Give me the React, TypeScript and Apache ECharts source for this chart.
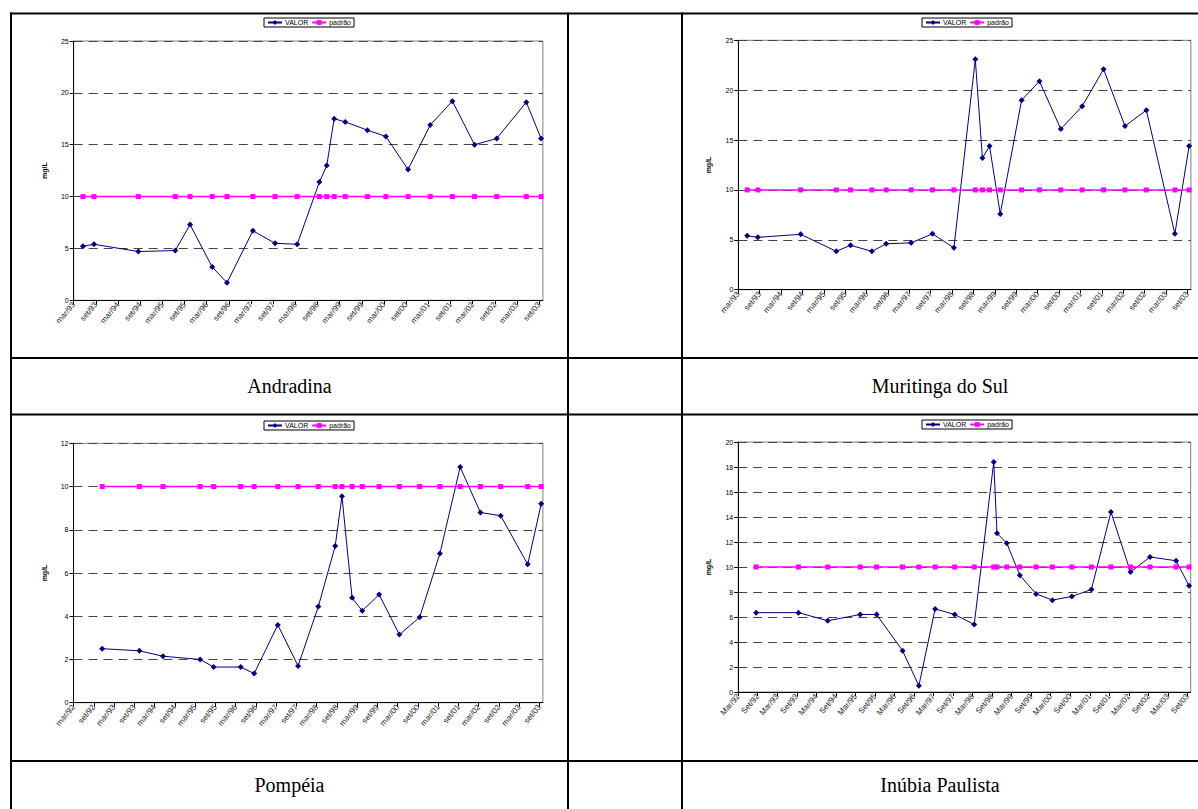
import { useEffect, useRef } from "react";
import * as echarts from "echarts";

// ---- data ----
const andradinaDates = ["1993-05","1993-08","1994-08","1995-06","1995-10","1996-04","1996-08","1997-03","1997-09","1998-03","1998-09","1998-11","1999-01","1999-04","1999-10","2000-03","2000-09","2001-03","2001-09","2002-03","2002-09","2003-05","2003-09"];
const andradinaValor = [5.2, 5.4, 4.7, 4.8, 7.3, 3.2, 1.7, 6.7, 5.5, 5.4, 11.4, 13.0, 17.5, 17.2, 16.4, 15.8, 12.6, 16.9, 19.2, 15.0, 15.6, 19.1, 15.6];
const andradinaPadrao = [10, 10, 10, 10, 10, 10, 10, 10, 10, 10, 10, 10, 10, 10, 10, 10, 10, 10, 10, 10, 10, 10, 10];

const muritingaDates = ["1993-05","1993-08","1994-08","1995-06","1995-10","1996-04","1996-08","1997-03","1997-09","1998-03","1998-09","1998-11","1999-01","1999-04","1999-10","2000-03","2000-09","2001-03","2001-09","2002-03","2002-09","2003-05","2003-09"];
const muritingaValor = [5.4, 5.25, 5.55, 3.85, 4.45, 3.85, 4.6, 4.7, 5.6, 4.2, 23.1, 13.2, 14.4, 7.6, 19.0, 20.9, 16.1, 18.4, 22.1, 16.4, 18.0, 5.6, 14.4];
const muritingaPadrao = [10, 10, 10, 10, 10, 10, 10, 10, 10, 10, 10, 10, 10, 10, 10, 10, 10, 10, 10, 10, 10, 10, 10];

const pompeiaDates = ["1992-11","1993-10","1994-05","1995-04","1995-08","1996-04","1996-08","1997-03","1997-09","1998-03","1998-08","1998-10","1999-01","1999-04","1999-09","2000-03","2000-09","2001-03","2001-09","2002-03","2002-09","2003-05","2003-09"];
const pompeiaValor = [2.5, 2.4, 2.15, 2.0, 1.65, 1.65, 1.35, 3.6, 1.7, 4.45, 7.25, 9.55, 4.85, 4.25, 5.0, 3.15, 3.95, 6.9, 10.9, 8.8, 8.65, 6.4, 9.2];
const pompeiaPadrao = [10, 10, 10, 10, 10, 10, 10, 10, 10, 10, 10, 10, 10, 10, 10, 10, 10, 10, 10, 10, 10, 10, 10];

const inubiaDates = ["1992-08","1993-09","1994-06","1995-04","1995-09","1996-05","1996-10","1997-03","1997-09","1998-03","1998-09","1998-10","1999-01","1999-05","1999-10","2000-03","2000-09","2001-03","2001-09","2002-03","2002-09","2003-05","2003-09"];
const inubiaValor = [6.35, 6.35, 5.7, 6.2, 6.2, 3.3, 0.5, 6.65, 6.2, 5.4, 18.4, 12.7, 11.9, 9.35, 7.85, 7.35, 7.65, 8.2, 14.4, 9.6, 10.8, 10.5, 8.5];
const inubiaPadrao = [10, 10, 10, 10, 10, 10, 10, 10, 10, 10, 10, 10, 10, 10, 10, 10, 10, 10, 10, 10, 10, 10, 10];

const cityNames = ["Andradina", "Muritinga do Sul", "Pompéia", "Inúbia Paulista"];
const seriesNames = ["VALOR", "padrão"];
const yAxisName = "mg/L";
const monthNames = ["jan", "fev", "mar", "abr", "mai", "jun", "jul", "ago", "set", "out", "nov", "dez"];

// month index counted from March 1990 (mid-month for a sample)
function toMonth(d: string) {
  const [y, m] = d.split("-").map(Number);
  return (y - 1990) * 12 + (m - 3) + 0.5;
}
function tickLabel(v: number, cap: boolean) {
  const r = ((v % 6) + 6) % 6;
  if (r > 1e-6 && r < 6 - 1e-6) return "";
  const t = Math.round(v) + 2;
  const y = 1990 + Math.floor(t / 12);
  let n = monthNames[t % 12];
  if (cap) n = n[0].toUpperCase() + n.slice(1);
  return n + "/" + String(y % 100).padStart(2, "0");
}

const charts = [
  { dates: andradinaDates, valor: andradinaValor, padrao: andradinaPadrao, xMin: 36, yMax: 25, yInt: 5, cap: false,
    grid: { left: 73.7, top: 41, width: 469.2, height: 259.3 }, legend: { left: 264, top: 18 } },
  { dates: muritingaDates, valor: muritingaValor, padrao: muritingaPadrao, xMin: 36, yMax: 25, yInt: 5, cap: false,
    grid: { left: 738.3, top: 40.3, width: 452.6, height: 249.4 }, legend: { left: 922, top: 18 } },
  { dates: pompeiaDates, valor: pompeiaValor, padrao: pompeiaPadrao, xMin: 24, yMax: 12, yInt: 2, cap: false,
    grid: { left: 73.5, top: 443.3, width: 469.4, height: 259.4 }, legend: { left: 264, top: 421 } },
  { dates: inubiaDates, valor: inubiaValor, padrao: inubiaPadrao, xMin: 24, yMax: 20, yInt: 2, cap: true,
    grid: { left: 738.2, top: 442, width: 452.5, height: 250 }, legend: { left: 922, top: 420 } },
];

const FONT = "'Liberation Sans', Arial, sans-serif";
const SERIF = "'Liberation Serif', 'Times New Roman', serif";

export default function App() {
  const ref = useRef<HTMLDivElement>(null);
  useEffect(() => {
    if (!ref.current) return;
    const chart = echarts.init(ref.current, null, { renderer: "svg" });

    const grid: any[] = [];
    const xAxis: any[] = [];
    const yAxis: any[] = [];
    const series: any[] = [];
    const legend: any[] = [];

    charts.forEach((c, i) => {
      grid.push({ ...c.grid, show: true, borderColor: "#808080", borderWidth: 1, backgroundColor: "transparent" });
      xAxis.push({
        type: "value", gridIndex: i, min: c.xMin, max: 163, interval: 6,
        axisLine: { show: true, onZero: false, lineStyle: { color: "#000", width: 1 } },
        axisTick: { show: true, inside: false, length: 4, lineStyle: { color: "#000" } },
        axisLabel: { rotate: 50, fontSize: 8, margin: 3, color: "#222", fontFamily: FONT, showMaxLabel: false,
          formatter: (v: number) => tickLabel(v, c.cap) },
        splitLine: { show: false },
      });
      yAxis.push({
        type: "value", gridIndex: i, min: 0, max: c.yMax, interval: c.yInt,
        name: yAxisName, nameLocation: "middle", nameRotate: 90, nameGap: 26,
        nameTextStyle: { fontSize: 7, fontWeight: "bold", color: "#000", fontFamily: FONT },
        axisLine: { show: true, lineStyle: { color: "#000", width: 1 } },
        axisTick: { show: true, inside: false, length: 4, lineStyle: { color: "#000" } },
        axisLabel: { fontSize: 7, margin: 5, color: "#000", fontFamily: FONT },
        splitLine: { show: true, lineStyle: { type: [9, 6], color: "#444", width: 1 } },
      });
      series.push({
        name: seriesNames[0], type: "line", xAxisIndex: i, yAxisIndex: i,
        data: c.dates.map((d, k) => [toMonth(d), c.valor[k]]),
        symbol: "diamond", symbolSize: 6,
        lineStyle: { color: "#000080", width: 1 }, itemStyle: { color: "#000080" },
      });
      series.push({
        name: seriesNames[1], type: "line", xAxisIndex: i, yAxisIndex: i,
        data: c.dates.map((d, k) => [toMonth(d), c.padrao[k]]),
        symbol: "rect", symbolSize: 5,
        lineStyle: { color: "#FF00FF", width: 1.5 }, itemStyle: { color: "#FF00FF" },
      });
      legend.push({
        data: seriesNames, left: c.legend.left, top: c.legend.top, orient: "horizontal",
        itemWidth: 14, itemHeight: 6, itemGap: 3, padding: [1, 3],
        borderColor: "#000", borderWidth: 1, backgroundColor: "#fff",
        textStyle: { fontSize: 7, color: "#000", fontFamily: FONT, padding: [0, 0, 0, -2] },
        selectedMode: false,
      });
    });

    const lineStyle = { stroke: "#000", lineWidth: 2 };
    const graphic: any[] = [
      { type: "line", shape: { x1: 10, y1: 13.5, x2: 1198, y2: 13.5 }, style: lineStyle },
      { type: "line", shape: { x1: 10, y1: 358, x2: 1198, y2: 358 }, style: lineStyle },
      { type: "line", shape: { x1: 10, y1: 414.5, x2: 1198, y2: 414.5 }, style: lineStyle },
      { type: "line", shape: { x1: 10, y1: 761, x2: 1198, y2: 761 }, style: lineStyle },
      { type: "line", shape: { x1: 11, y1: 12.5, x2: 11, y2: 809 }, style: lineStyle },
      { type: "line", shape: { x1: 568, y1: 12.5, x2: 568, y2: 809 }, style: lineStyle },
      { type: "line", shape: { x1: 682, y1: 12.5, x2: 682, y2: 809 }, style: lineStyle },
    ];
    const labelPos = [[289.5, 386], [940, 386], [289.5, 785], [940, 785]];
    cityNames.forEach((n, i) => {
      graphic.push({
        type: "text", x: labelPos[i][0], y: labelPos[i][1],
        style: { text: n, fontSize: 20, fontFamily: SERIF, fill: "#000", align: "center", verticalAlign: "middle" },
      });
    });

    chart.setOption({
      animation: false,
      backgroundColor: "#fff",
      grid, xAxis, yAxis, series, legend, graphic,
    });
    return () => chart.dispose();
  }, []);

  return (
    <div
      ref={ref}
      style={{ position: "absolute", left: 0, top: 0, width: 1198, height: 809 }}
    />
  );
}
